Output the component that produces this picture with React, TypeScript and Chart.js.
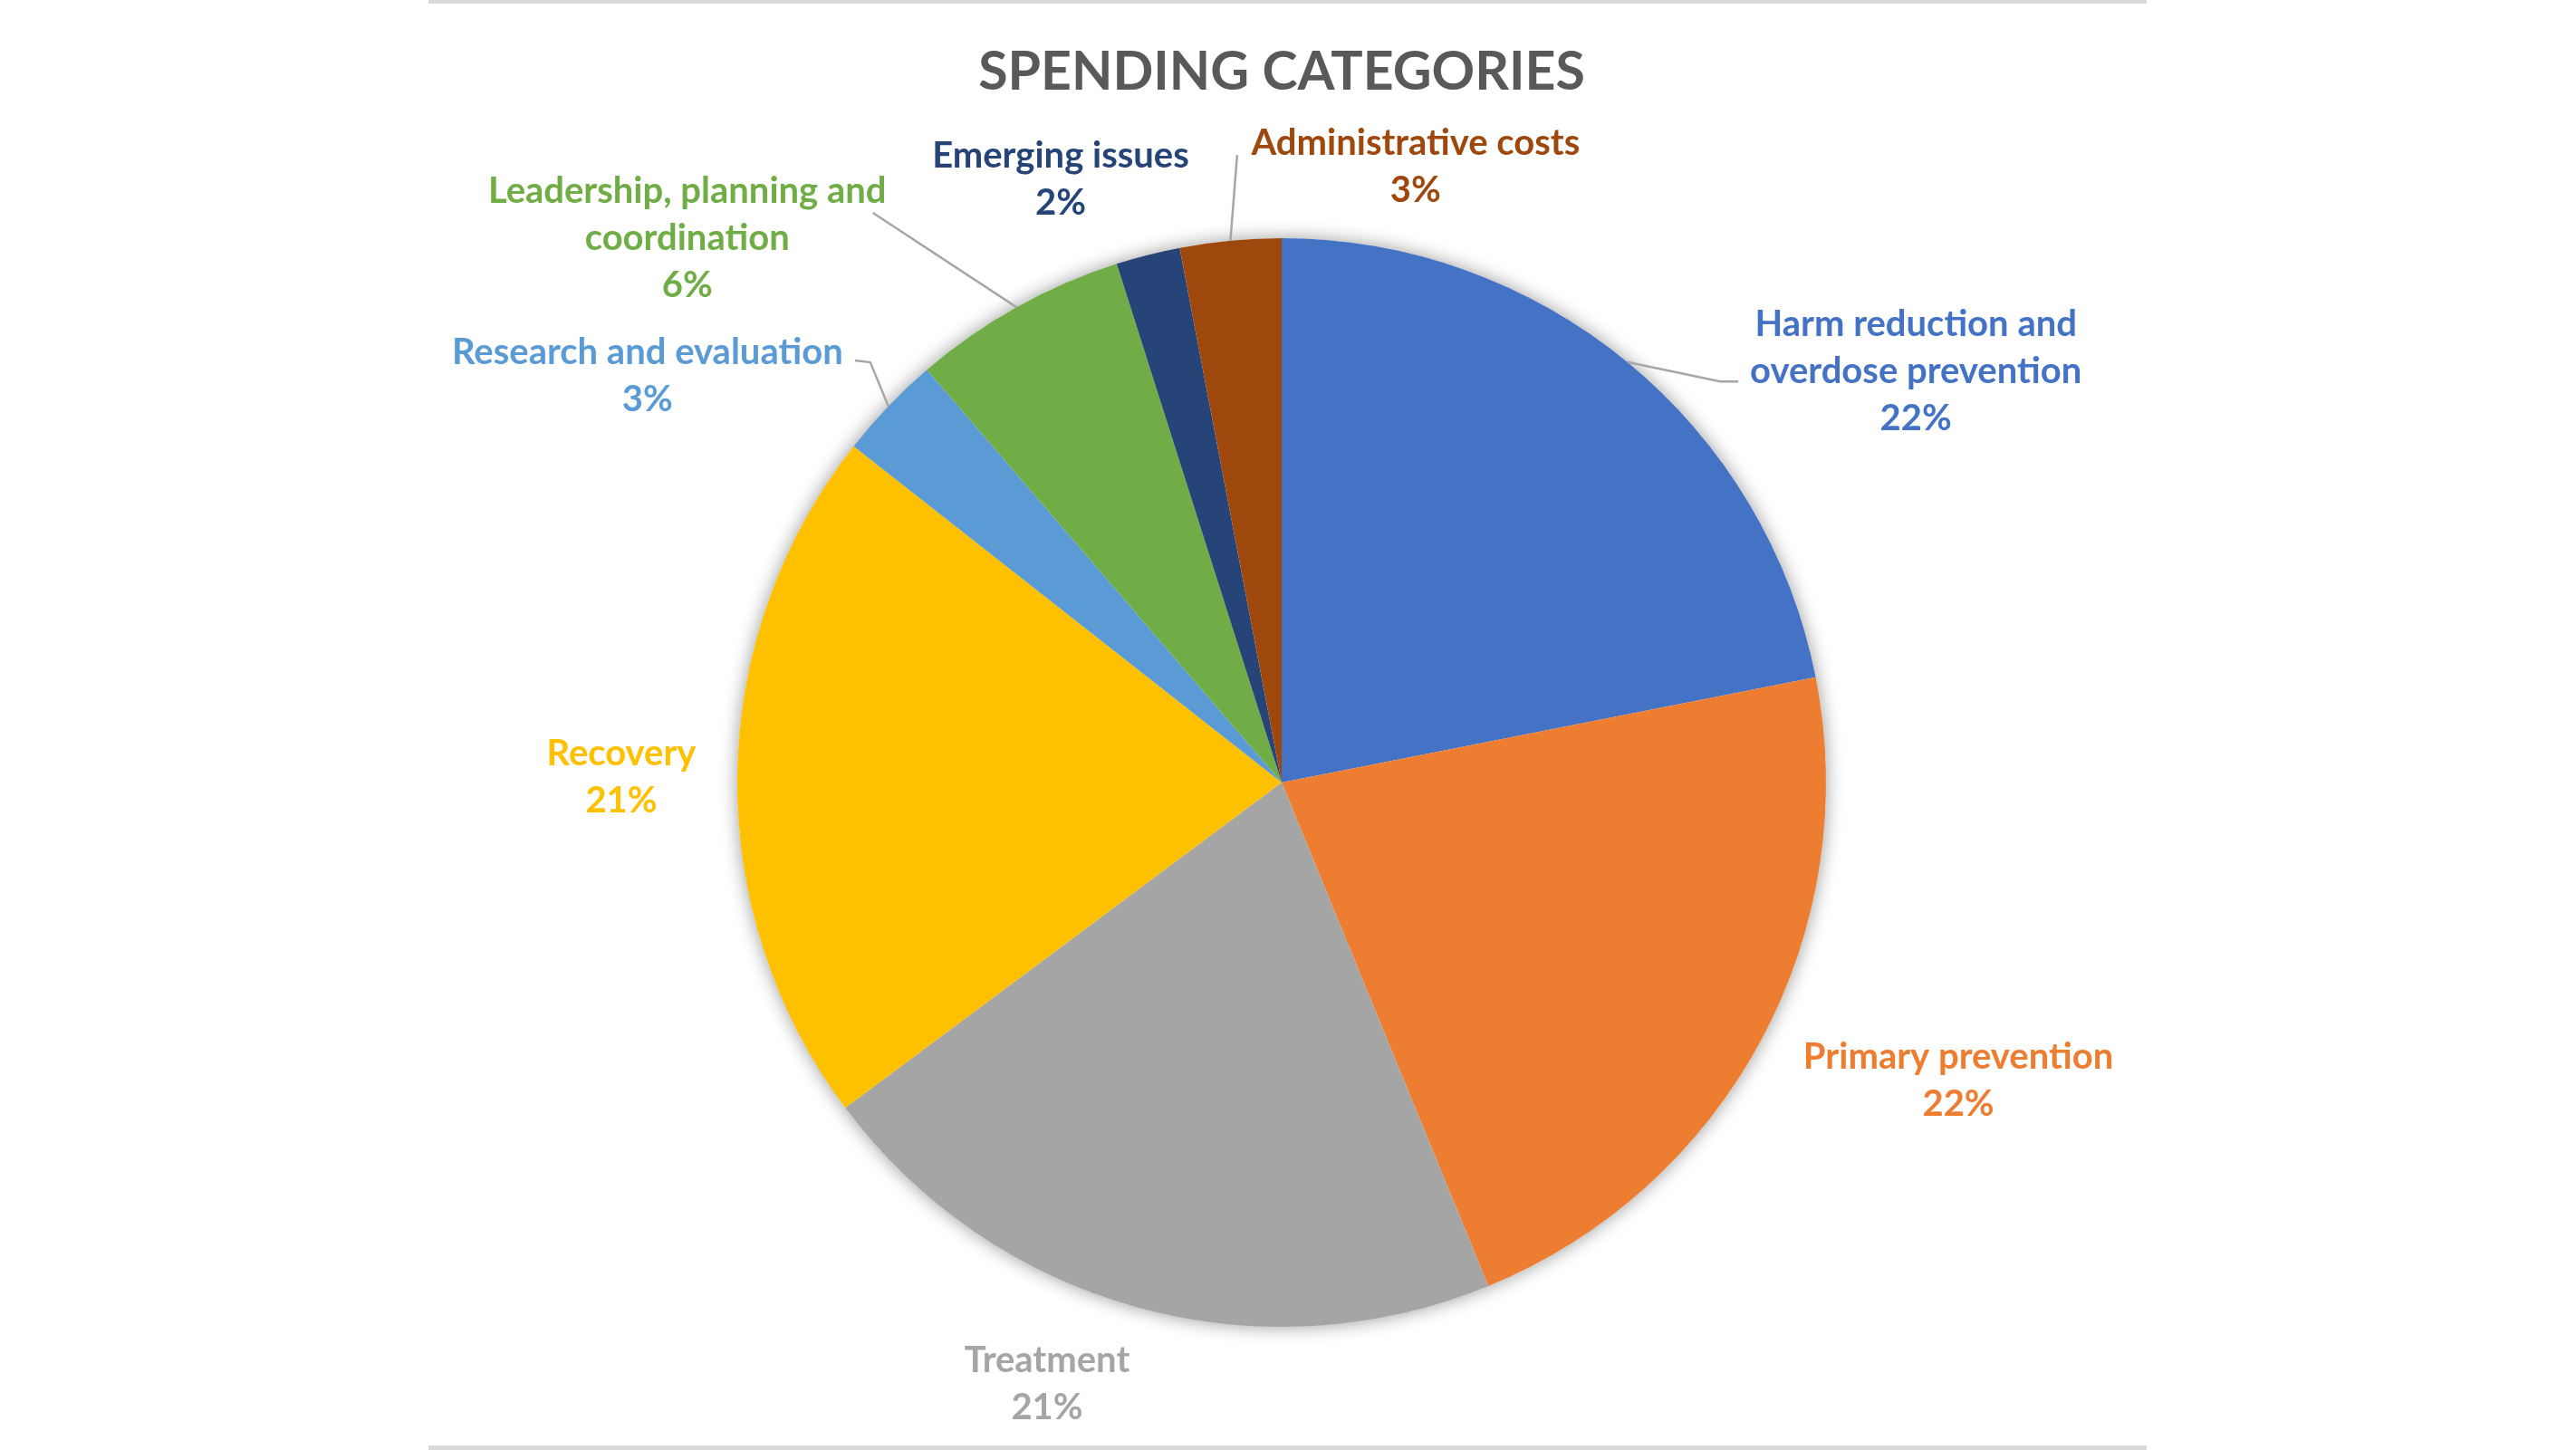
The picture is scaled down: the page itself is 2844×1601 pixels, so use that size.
import React, { useEffect, useRef } from "react";
import { Chart, registerables } from "chart.js";

Chart.register(...registerables);

// ---- data ----
const title = "SPENDING CATEGORIES";
const categories: string[][] = [
  ["Harm reduction and", "overdose prevention"],
  ["Primary prevention"],
  ["Treatment"],
  ["Recovery"],
  ["Research and evaluation"],
  ["Leadership, planning and", "coordination"],
  ["Emerging issues"],
  ["Administrative costs"],
];
const shares = [21.9, 21.9, 21.0, 20.8, 3.1, 6.4, 1.9, 3.0];
const colors = ["#4472C4", "#ED7D31", "#A5A5A5", "#FFC000", "#5B9BD5", "#70AD47", "#264478", "#9E480E"];

// ---- label layout (centre of each label block, in pie radii from the pie centre) ----
const labelOffsets: number[][] = [
  [1.165, -0.755],
  [1.243, 0.547],
  [-0.431, 1.105],
  [-1.213, -0.01],
  [-1.165, -0.747],
  [-1.092, -1.0],
  [-0.406, -1.108],
  [0.246, -1.131],
];
// leader line points relative to the label centre (px); line starts at the arc's mid edge
const leaders: (number[][] | null)[] = [
  [[-216, 11], [-196, 11]],
  null,
  null,
  null,
  [[246, -15], [229, -17]],
  [[205, -28]],
  null,
  [[-197, -13]],
];

const LABEL_FONT = "bold 40px Lato";
const LINE_H = 52;

const sliceLabels = {
  id: "sliceLabels",
  beforeDatasetsDraw(chart: any) {
    const meta = chart.getDatasetMeta(0);
    const el = meta.data[0];
    if (!el) return;
    const { x, y, outerRadius } = el.getProps(["x", "y", "outerRadius"], true);
    const ctx = chart.ctx;
    ctx.save();
    ctx.shadowColor = "rgba(0,0,0,0.4)";
    ctx.shadowBlur = 20;
    ctx.fillStyle = "#ffffff";
    ctx.beginPath();
    ctx.arc(x, y, outerRadius, 0, Math.PI * 2);
    ctx.fill();
    ctx.restore();
  },
  afterDatasetsDraw(chart: any) {
    const meta = chart.getDatasetMeta(0);
    const ctx = chart.ctx;
    const data = chart.data.datasets[0].data as number[];
    const total = data.reduce((a, b) => a + b, 0);
    ctx.save();
    meta.data.forEach((el: any, i: number) => {
      const { x, y, startAngle, endAngle, outerRadius } = el.getProps(
        ["x", "y", "startAngle", "endAngle", "outerRadius"],
        true
      );
      const mid = (startAngle + endAngle) / 2;
      const lx = x + labelOffsets[i][0] * outerRadius;
      const ly = y + labelOffsets[i][1] * outerRadius;
      const pts = leaders[i];
      if (pts) {
        ctx.strokeStyle = "#A6A6A6";
        ctx.lineWidth = 2.5;
        ctx.beginPath();
        ctx.moveTo(x + Math.cos(mid) * outerRadius, y + Math.sin(mid) * outerRadius);
        pts.forEach(([dx, dy]) => ctx.lineTo(lx + dx, ly + dy));
        ctx.stroke();
      }
      const pct = Math.round((data[i] / total) * 100) + "%";
      const lines = [...(chart.data.labels[i] as string[]), pct];
      ctx.font = LABEL_FONT;
      ctx.fillStyle = colors[i];
      ctx.textAlign = "center";
      ctx.textBaseline = "middle";
      lines.forEach((t, k) => {
        ctx.fillText(t, lx, ly + (k - (lines.length - 1) / 2) * LINE_H);
      });
    });
    ctx.restore();
  },
};

export default function App() {
  const ref = useRef<HTMLCanvasElement | null>(null);

  useEffect(() => {
    if (!ref.current) return;
    const chart = new Chart(ref.current, {
      type: "pie",
      data: {
        labels: categories as any,
        datasets: [
          {
            data: shares,
            backgroundColor: colors,
            borderWidth: 0,
          },
        ],
      },
      options: {
        responsive: false,
        animation: false,
        events: [],
        layout: { padding: { top: 0, bottom: 136, left: 0, right: 14 } },
        plugins: {
          legend: { display: false },
          tooltip: { enabled: false },
          title: {
            display: true,
            text: title,
            color: "#595959",
            font: { family: "Lato", size: 59, weight: "bold", lineHeight: 1.2 },
            padding: { top: 45, bottom: 147.2 },
          },
        },
      },
      plugins: [sliceLabels],
    });
    let alive = true;
    if ((document as any).fonts) {
      (document as any).fonts.load(LABEL_FONT).then(() => {
        if (alive) chart.update();
      });
    }
    return () => {
      alive = false;
      chart.destroy();
    };
  }, []);

  return (
    <div style={{ position: "fixed", left: 0, top: 0, width: 2844, height: 1601, background: "#fff", overflow: "hidden" }}>
      <div
        style={{
          position: "absolute",
          left: 473,
          top: 0,
          width: 1897,
          height: 1601,
          boxSizing: "border-box",
          borderTop: "4px solid #D9D9D9",
          borderBottom: "5px solid #D9D9D9",
        }}
      />
      <canvas ref={ref} width={2844} height={1601} style={{ position: "absolute", left: 0, top: 0, width: 2844, height: 1601 }} />
    </div>
  );
}
